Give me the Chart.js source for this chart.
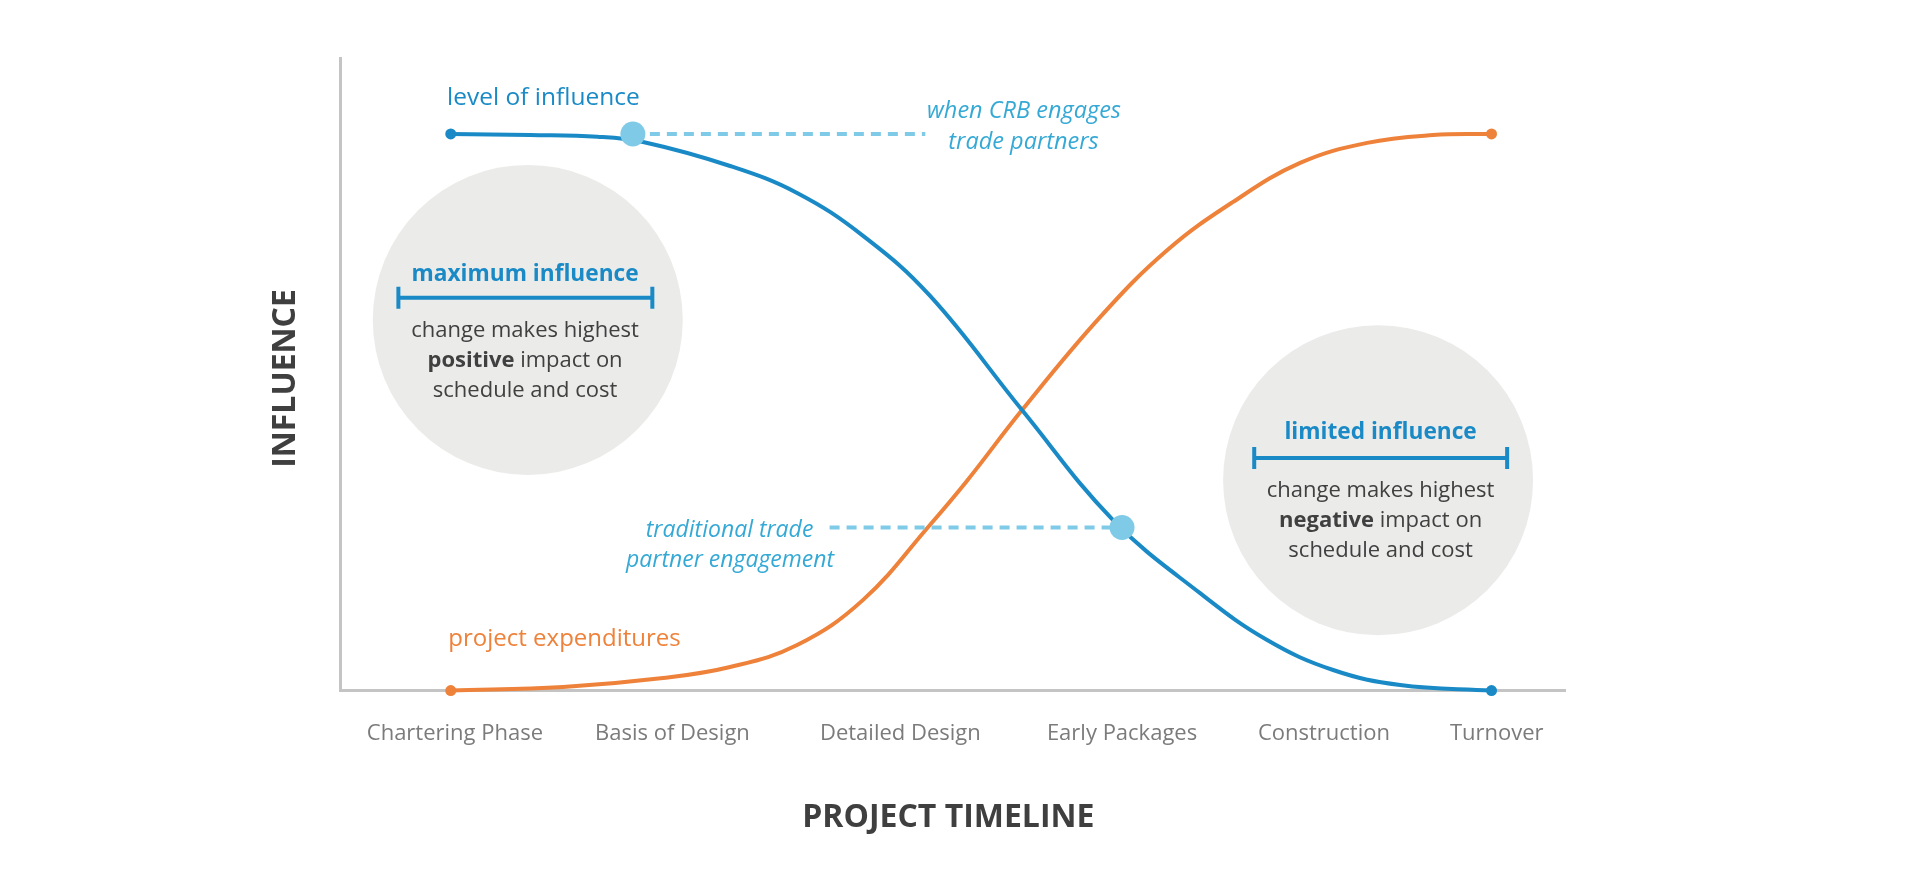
<!DOCTYPE html>
<html>
<head>
<meta charset="utf-8">
<title>Influence vs project expenditures</title>
<script src="https://cdn.jsdelivr.net/npm/chart.js@4/dist/chart.umd.min.js"></script>
<style>
  html, body { margin: 0; padding: 0; background: #ffffff; }
  #wrap { position: relative; width: 1920px; height: 873px; }
</style>
</head>
<body>
<div id="wrap"><canvas id="chart"></canvas></div>
<script>
// Project stages along the timeline and where each label sits on the x scale
const stageLabels = ['Chartering Phase', 'Basis of Design', 'Detailed Design', 'Early Packages', 'Construction', 'Turnover'];
const stageTicks = [0.04, 2.13, 4.32, 6.45, 8.39, 10.05];

// Level of influence (falls from 100 to 0)
const influenceX = [0, 0.762, 1.409, 1.848, 2.684, 3.328, 3.962, 4.606, 5.489, 6.366, 7.200, 7.844, 8.478, 9.122, 10];
const influenceY = [100, 99.82, 99.52, 98.56, 94.25, 89.4, 81.7, 70.9, 50.4, 30.6, 17.5, 9.09, 3.70, 1.01, 0];

// Project expenditures (rises from 0 to 100)
const spendX = [0, 1.079, 2.040, 2.684, 3.328, 3.962, 4.606, 4.961, 5.489, 6.239, 6.883, 7.517, 8.161, 8.805, 9.439, 10];
const spendY = [0, 0.65, 2.26, 4.24, 8.19, 16.3, 29.8, 37.7, 50.4, 67.1, 79.1, 87.8, 94.8, 98.4, 99.8, 100];

// Trade partner engagement points: CRB (early) and traditional (late)
const engageX = [1.75, 6.45];
const engageY = [100, 29.3];
// Where each dashed leader line ends
const leaderEndX = [4.56, 3.64];

const BLUE = '#1a8ac6';
const ORANGE = '#ee823a';
const LIGHT = '#7fcbe7';
const NOTE = '#35a9d5';
const DARK = '#404040';
const FONT = '"Open Sans", "Noto Sans", sans-serif';

function pts(xs, ys) {
    return xs.map((x, i) => ({ x: x, y: ys[i] }));
}

// Annotations, placed in data units so they follow the scales
const bubbles = [
    { x: 0.74, y: 66.6, r: 155 },
    { x: 8.91, y: 37.8, r: 155 }
];

const rangeBars = [
    { x1: -0.503, x2: 1.937, y: 70.6 },
    { x1: 7.72, x2: 10.15, y: 41.8 }
];

const notes = [
    { x: -0.036, y: 106.45, align: 'left', font: '400 24.5px ' + FONT, color: BLUE, parts: [['level of influence']] },
    { x: -0.023, y: 9.2, align: 'left', font: '400 24px ' + FONT, color: ORANGE, parts: [['project expenditures']] },
    { x: 5.508, y: 104.0, align: 'center', font: 'italic 400 23.5px ' + FONT, color: NOTE, parts: [['when CRB engages']] },
    { x: 5.503, y: 98.5, align: 'center', font: 'italic 400 23.5px ' + FONT, color: NOTE, parts: [['trade partners']] },
    { x: 2.679, y: 28.8, align: 'center', font: 'italic 400 23px ' + FONT, color: NOTE, parts: [['traditional trade']] },
    { x: 2.684, y: 23.4, align: 'center', font: 'italic 400 23px ' + FONT, color: NOTE, parts: [['partner engagement']] },

    { x: 0.714, y: 74.8, align: 'center', font: '700 22.7px ' + FONT, color: BLUE, parts: [['maximum influence']] },
    { x: 0.714, y: 64.6, align: 'center', font: '400 22px ' + FONT, color: DARK, parts: [['change makes highest']] },
    { x: 0.714, y: 59.2, align: 'center', font: '400 22px ' + FONT, color: DARK, parts: [['positive', true], [' impact on']] },
    { x: 0.714, y: 53.8, align: 'center', font: '400 22px ' + FONT, color: DARK, parts: [['schedule and cost']] },

    { x: 8.934, y: 46.3, align: 'center', font: '700 22.7px ' + FONT, color: BLUE, parts: [['limited influence']] },
    { x: 8.934, y: 35.85, align: 'center', font: '400 22px ' + FONT, color: DARK, parts: [['change makes highest']] },
    { x: 8.934, y: 30.45, align: 'center', font: '400 22px ' + FONT, color: DARK, parts: [['negative', true], [' impact on']] },
    { x: 8.934, y: 25.05, align: 'center', font: '400 22px ' + FONT, color: DARK, parts: [['schedule and cost']] }
];

const notesPlugin = {
    id: 'notes',
    beforeDatasetsDraw(chart) {
        const { ctx, scales: { x, y } } = chart;
        ctx.save();
        ctx.fillStyle = '#ebebea';
        bubbles.forEach(b => {
            ctx.beginPath();
            ctx.arc(x.getPixelForValue(b.x), y.getPixelForValue(b.y), b.r, 0, Math.PI * 2);
            ctx.fill();
        });
        ctx.restore();
    },
    afterDatasetsDraw(chart) {
        const { ctx, scales: { x, y } } = chart;
        ctx.save();

        // range bars with end caps
        ctx.strokeStyle = BLUE;
        ctx.lineWidth = 4;
        rangeBars.forEach(b => {
            const x1 = x.getPixelForValue(b.x1);
            const x2 = x.getPixelForValue(b.x2);
            const py = y.getPixelForValue(b.y);
            ctx.beginPath();
            ctx.moveTo(x1, py);
            ctx.lineTo(x2, py);
            ctx.moveTo(x1, py - 11);
            ctx.lineTo(x1, py + 11);
            ctx.moveTo(x2, py - 11);
            ctx.lineTo(x2, py + 11);
            ctx.stroke();
        });

        // text, a line may mix regular and bold pieces
        ctx.textBaseline = 'middle';
        ctx.textAlign = 'left';
        notes.forEach(n => {
            const boldFont = n.font.replace('400', '700');
            let width = 0;
            n.parts.forEach(p => {
                ctx.font = p[1] ? boldFont : n.font;
                width += ctx.measureText(p[0]).width;
            });
            let px = x.getPixelForValue(n.x);
            if (n.align === 'center') px -= width / 2;
            const py = y.getPixelForValue(n.y);
            ctx.fillStyle = n.color;
            n.parts.forEach(p => {
                ctx.font = p[1] ? boldFont : n.font;
                ctx.fillText(p[0], px, py);
                px += ctx.measureText(p[0]).width;
            });
        });
        ctx.restore();
    }
};

const endDot = n => ctx => (ctx.dataIndex === 0 || ctx.dataIndex === n - 1) ? 5.5 : 0;

new Chart(document.getElementById('chart'), {
    type: 'line',
    data: {
        datasets: [
            {
                label: 'engagement',
                data: pts(engageX, engageY),
                showLine: false,
                pointRadius: 12.5,
                pointBackgroundColor: LIGHT,
                pointBorderWidth: 0,
                order: 0,
                clip: false
            },
            {
                label: 'CRB leader',
                data: [{ x: engageX[0], y: engageY[0] }, { x: leaderEndX[0], y: engageY[0] }],
                borderColor: LIGHT,
                borderWidth: 4,
                borderDash: [10, 7],
                pointRadius: 0,
                order: 1
            },
            {
                label: 'traditional leader',
                data: [{ x: leaderEndX[1], y: engageY[1] }, { x: engageX[1], y: engageY[1] }],
                borderColor: LIGHT,
                borderWidth: 4,
                borderDash: [10, 7],
                pointRadius: 0,
                order: 1
            },
            {
                label: 'level of influence',
                data: pts(influenceX, influenceY),
                borderColor: BLUE,
                borderWidth: 4,
                tension: 0.4,
                pointRadius: endDot(influenceX.length),
                pointBackgroundColor: BLUE,
                pointBorderWidth: 0,
                order: 2,
                clip: false
            },
            {
                label: 'project expenditures',
                data: pts(spendX, spendY),
                borderColor: ORANGE,
                borderWidth: 4,
                tension: 0.4,
                pointRadius: endDot(spendX.length),
                pointBackgroundColor: ORANGE,
                pointBorderWidth: 0,
                order: 3,
                clip: false
            }
        ]
    },
    options: {
        responsive: true,
        maintainAspectRatio: false,
        animation: false,
        events: [],
        layout: {
            padding: { left: 266.8, right: 355, top: 58, bottom: 35.8 }
        },
        plugins: {
            legend: { display: false },
            tooltip: { enabled: false }
        },
        scales: {
            x: {
                type: 'linear',
                min: -1.064,
                max: 10.706,
                grid: { display: false, drawTicks: false },
                border: { display: true, color: '#c4c4c4', width: 3 },
                afterBuildTicks: scale => {
                    scale.ticks = stageTicks.map(v => ({ value: v }));
                },
                ticks: {
                    autoSkip: false,
                    maxRotation: 0,
                    padding: 30.2,
                    color: '#7b7b7b',
                    font: { family: FONT, size: 22 },
                    callback: (value, index) => stageLabels[index]
                },
                title: {
                    display: true,
                    // trailing space nudges the centred title left a little
                    text: 'PROJECT TIMELINE ',
                    color: '#3f3f3f',
                    font: { family: FONT, size: 32, weight: 'bold' },
                    padding: { top: 21.4, bottom: 0 }
                }
            },
            y: {
                type: 'linear',
                min: 0,
                max: 113.65,
                grid: { display: false, drawTicks: false },
                border: { display: true, color: '#c4c4c4', width: 3 },
                ticks: { display: false },
                title: {
                    display: true,
                    text: 'INFLUENCE ',
                    color: '#3f3f3f',
                    font: { family: FONT, size: 32, weight: 'bold' },
                    padding: { top: 0, bottom: 34.8 }
                }
            }
        }
    },
    plugins: [notesPlugin]
});
</script>
</body>
</html>
